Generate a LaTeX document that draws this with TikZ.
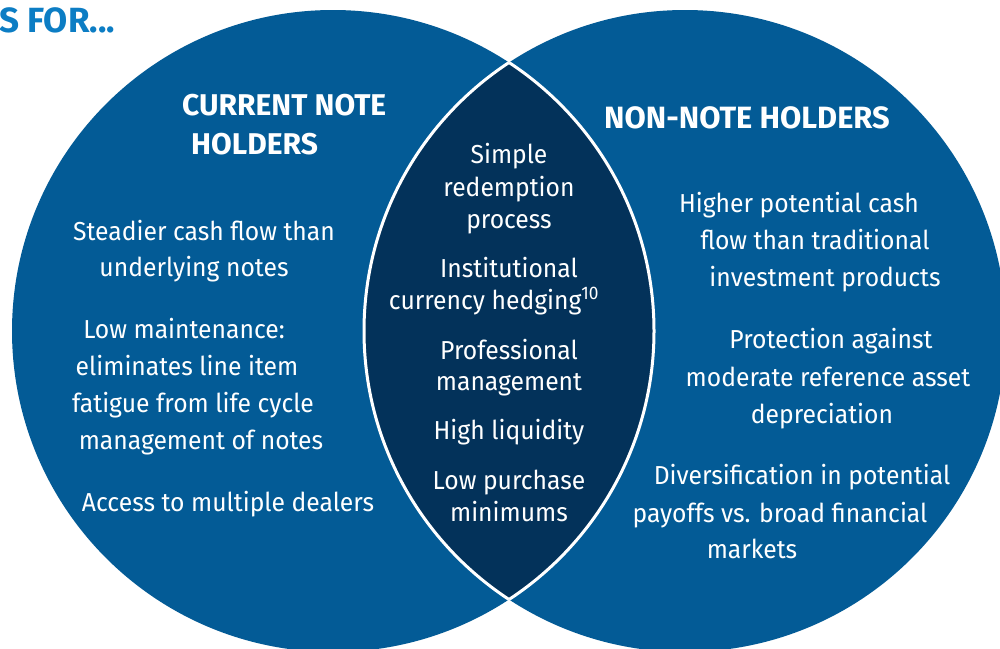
\documentclass[tikz,border=0pt]{standalone}
\usepackage{fontspec}
\setmainfont{Fira Sans}[FakeStretch=0.95]
\newfontfamily\hfont{Fira Sans}
\definecolor{circblue}{RGB}{3,91,150}
\definecolor{lensblue}{RGB}{3,50,90}
\definecolor{titleblue}{RGB}{12,125,196}
\begin{document}
\begin{tikzpicture}[x=1pt,y=-1pt,
  txt/.style={text=white,inner sep=0pt,anchor=base,font=\fontsize{26}{37}\selectfont},
  head/.style={text=white,inner sep=0pt,anchor=base west,font=\hfont\fontsize{30}{38}\selectfont\bfseries}]
\useasboundingbox[fill=white] (0,0) rectangle (1000,648);
\coordinate (lc) at (333,331);
\coordinate (rc) at (685,331);
\fill[circblue] (lc) circle[radius=321];
\fill[circblue] (rc) circle[radius=321];
\begin{scope}
  \clip (lc) circle[radius=321];
  \fill[lensblue] (rc) circle[radius=321];
  \draw[white,line width=3] (rc) circle[radius=321];
\end{scope}
\begin{scope}
  \clip (rc) circle[radius=321];
  \draw[white,line width=3] (lc) circle[radius=321];
\end{scope}
% title
\node[anchor=base west,inner sep=0pt,text=titleblue,font=\hfont\fontsize{35}{40}\selectfont\bfseries] (title) at (-1,32) {S FOR...};
% left
\node[head] (h1a) at (182,115) {CURRENT NOTE};
\node[head] (h1b) at (191,154) {HOLDERS};
\node[txt] (l1) at (204,240) {Steadier cash flow than};
\node[txt] (l2) at (194,276) {underlying notes};
\node[txt] (l3) at (184,338) {Low maintenance:};
\node[txt] (l4) at (187,375) {eliminates line item};
\node[txt] (l5) at (193,412) {fatigue from life cycle};
\node[txt] (l6) at (201,449) {management of notes};
\node[txt] (l7) at (228,511) {Access to multiple dealers};
% center
\node[txt] (c1) at (509,163) {Simple};
\node[txt] (c2) at (509,196) {redemption};
\node[txt] (c3) at (509,228) {process};
\node[txt] (c4) at (509,277) {Institutional};
\node[txt] (c5) at (494,309) {currency hedging\textsuperscript{10}};
\node[txt] (c6) at (509,359) {Professional};
\node[txt] (c7) at (509,390) {management};
\node[txt] (c8) at (509,439) {High liquidity};
\node[txt] (c9) at (509,489) {Low purchase};
\node[txt] (c10) at (509,521) {minimums};
% right
\node[head,font=\hfont\fontsize{30.8}{38}\selectfont\bfseries] (h2) at (604,128) {NON-NOTE HOLDERS};
\node[txt] (r1) at (799,212) {Higher potential cash};
\node[txt] (r2) at (815,249) {flow than traditional};
\node[txt] (r3) at (825,286) {investment products};
\node[txt] (r4) at (831,348) {Protection against};
\node[txt] (r5) at (828,386) {moderate reference asset};
\node[txt] (r6) at (822,423) {depreciation};
\node[txt] (r7) at (802,484) {Diversification in potential};
\node[txt] (r8) at (780,522) {payoffs vs. broad financial};
\node[txt] (r9) at (752,558) {markets};
\end{tikzpicture}
\end{document}
